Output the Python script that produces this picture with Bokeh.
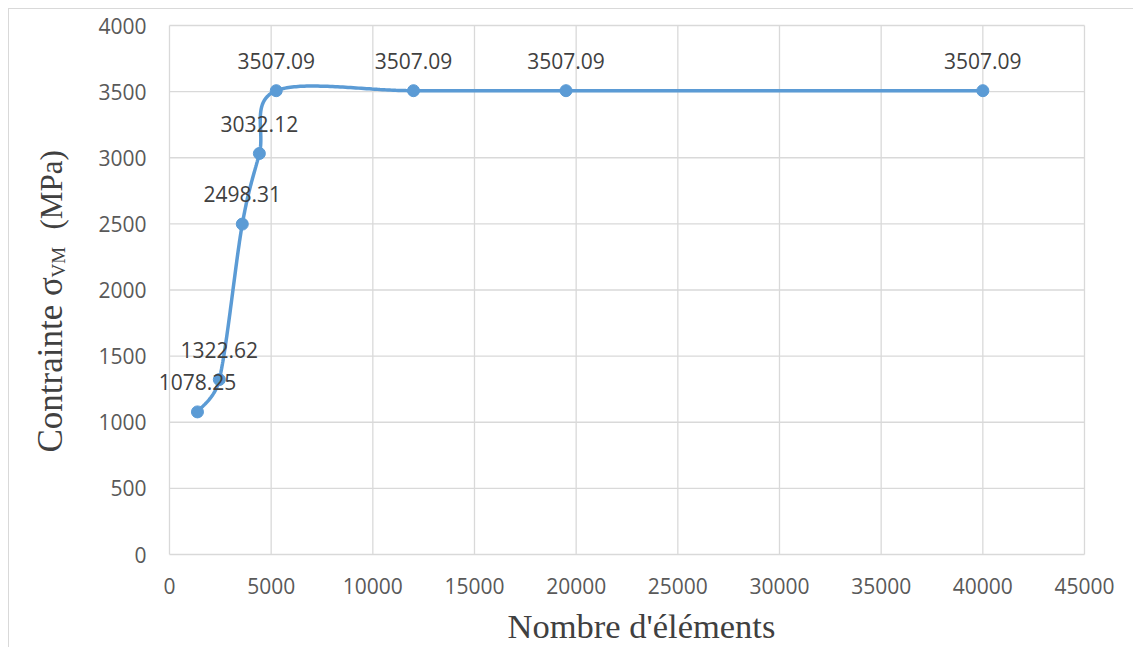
import numpy as np
from bokeh.plotting import figure
from bokeh.models import Label, ColumnDataSource, Range1d
from bokeh.core.properties import value
from bokeh.embed import file_html
from bokeh.resources import INLINE

# ---- data ----
elements = [1375, 2450, 3580, 4420, 5250, 12000, 19500, 40000]
stress = [1078.25, 1322.62, 2498.31, 3032.12, 3507.09, 3507.09, 3507.09, 3507.09]
labels = ["1078.25", "1322.62", "2498.31", "3032.12", "3507.09", "3507.09", "3507.09", "3507.09"]
x_ticks = [0, 5000, 10000, 15000, 20000, 25000, 30000, 35000, 40000, 45000]
y_ticks = [0, 500, 1000, 1500, 2000, 2500, 3000, 3500, 4000]
x_tick_labels = [str(t) for t in x_ticks]
y_tick_labels = [str(t) for t in y_ticks]
x_title = "Nombre d'éléments"
y_title_main = "Contrainte σ"
y_title_sub = "VM"
y_title_unit = "(MPa)"

# ---- layout (pixels) ----
X_MAX, Y_MAX = 45000, 4000
W, H = 1125, 639          # canvas
FL, FT = 160, 16          # plot-area offset inside canvas
FW, FH = 915, 529         # plot-area size
sx, sy = FW / X_MAX, FH / Y_MAX

BLUE = "#5B9BD5"
GRID = "#D9D9D9"
TICK = "#595959"
TXT = "#404040"

p = figure(width=W, height=H, output_backend="svg", toolbar_location=None,
           x_range=Range1d(-FL / sx, (W - FL) / sx),
           y_range=Range1d(-(H - FT - FH) / sy, Y_MAX + FT / sy),
           x_axis_location=None, y_axis_location=None, min_border=0)
p.styles = {"margin-left": "8px", "margin-top": "8px",
            "border-left": "1px solid #D9D9D9", "border-top": "1px solid #D9D9D9"}
p.outline_line_color = None
p.background_fill_color = "white"
p.border_fill_color = "white"
p.grid.visible = False

# gridlines (plot area 0..X_MAX, 0..Y_MAX)
p.segment(x0=x_ticks, y0=[0] * len(x_ticks), x1=x_ticks, y1=[Y_MAX] * len(x_ticks),
          line_color=GRID, line_width=1.3)
p.segment(x0=[0] * len(y_ticks), y0=y_ticks, x1=[X_MAX] * len(y_ticks), y1=y_ticks,
          line_color=GRID, line_width=1.3)

# tick labels
p.text(x=x_ticks, y=[0] * len(x_ticks), text=x_tick_labels, y_offset=31,
       text_align="center", text_baseline="middle",
       text_font=value("Open Sans"), text_font_size="21px", text_color=TICK)
p.text(x=[0] * len(y_ticks), y=y_ticks, text=y_tick_labels, x_offset=-23,
       text_align="right", text_baseline="middle",
       text_font=value("Open Sans"), text_font_size="21px", text_color=TICK)

# ---- smoothed curve (Excel-like Bezier smoothing computed in pixel space) ----
P = np.column_stack([np.array(elements) * sx, np.array(stress) * sy])
n = len(P)
curve = []
for i in range(n - 1):
    p0 = P[i - 1] if i > 0 else P[i]
    p1, p2 = P[i], P[i + 1]
    p3 = P[i + 2] if i + 2 < n else P[i + 1]
    d12 = np.linalg.norm(p2 - p1)
    v1 = (p2 - p0) / 6.0
    v2 = (p3 - p1) / 6.0
    l1, l2 = np.linalg.norm(v1), np.linalg.norm(v2)
    if l1 > d12 / 2 and l1 > 0:
        v1 = v1 * (d12 / 2) / l1
    if l2 > d12 / 2 and l2 > 0:
        v2 = v2 * (d12 / 2) / l2
    c1, c2 = p1 + v1, p2 - v2
    t = np.linspace(0, 1, 60)[:, None]
    seg = ((1 - t) ** 3) * p1 + 3 * ((1 - t) ** 2) * t * c1 + 3 * (1 - t) * t ** 2 * c2 + t ** 3 * p2
    curve.append(seg if i == 0 else seg[1:])
curve = np.vstack(curve)
p.line(curve[:, 0] / sx, curve[:, 1] / sy, line_color=BLUE, line_width=3.5, line_cap="round")

src = ColumnDataSource(dict(x=elements, y=stress, t=labels))
p.scatter("x", "y", source=src, size=12, fill_color=BLUE, line_color=BLUE)
p.text("x", "y", text="t", source=src, y_offset=-30, text_align="center", text_baseline="middle",
       text_font=value("Open Sans"), text_font_size="21px", text_color=TXT)

# ---- axis titles (screen units from canvas bottom-left) ----
p.add_layout(Label(x=632, y=23, x_units="screen", y_units="screen", text=x_title,
                   text_font="Liberation Serif", text_font_size="34.5px", text_color=TXT,
                   text_align="center", text_baseline="alphabetic"))
ang = np.pi / 2
p.add_layout(Label(x=41, y=196, x_units="screen", y_units="screen", text=y_title_main, angle=ang,
                   text_font="Liberation Serif", text_font_size="35px", text_color=TXT,
                   text_align="left", text_baseline="alphabetic"))
p.add_layout(Label(x=49, y=371, x_units="screen", y_units="screen", text=y_title_sub, angle=ang,
                   text_font="Liberation Serif", text_font_size="19px", text_color=TXT,
                   text_align="left", text_baseline="alphabetic"))
p.add_layout(Label(x=42, y=419, x_units="screen", y_units="screen", text=y_title_unit, angle=ang,
                   text_font="Liberation Serif", text_font_size="31px", text_color=TXT,
                   text_align="left", text_baseline="alphabetic"))

open("out.html", "w").write(file_html(p, INLINE))
